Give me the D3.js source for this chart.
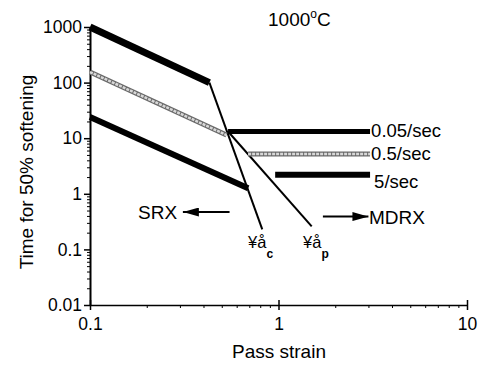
<!DOCTYPE html>
<html>
<head>
<meta charset="utf-8">
<script src="https://cdn.jsdelivr.net/npm/d3@7"></script>
<style>
  body { margin: 0; background: #fff; }
  svg { font-family: "Liberation Sans", Arial, sans-serif; }
</style>
</head>
<body>
<div id="chart"></div>
<script>
// SRX part (time vs strain, strain dependent)
const srxStrain005 = [0.1, 0.43]
const srxTime005 = [1000, 100]
const srxStrain05 = [0.1, 0.53]
const srxTime05 = [155, 11.4]
const srxStrain5 = [0.1, 0.69]
const srxTime5 = [24, 1.26]

// MDRX part (strain independent)
const mdrxStrain005 = [0.54, 3.06]
const mdrxTime005 = [13.2, 13.2]
const mdrxStrain05 = [0.69, 3.06]
const mdrxTime05 = [5.2, 5.2]
const mdrxStrain5 = [0.96, 3.06]
const mdrxTime5 = [2.2, 2.2]

// critical / peak strain lines
const ecStrain = [0.43, 0.82]
const ecTime = [100, 0.23]
const epStrain = [0.54, 1.5]
const epTime = [13.2, 0.26]

const rateLabels = ["0.05/sec", "0.5/sec", "5/sec"]
const yTicks = [0.01, 0.1, 1, 10, 100, 1000]
const xTicks = [0.1, 1, 10]

const width = 483
const height = 365

const xScale = d3.scaleLog().domain([0.1, 10]).range([90, 467])
const yScale = d3.scaleLog().domain([0.01, 1000]).range([305, 27])

const svg = d3.select("#chart")
  .append("svg")
  .attr("width", width)
  .attr("height", height)

const pts = (xs, ys) => xs.map((x, i) => [x, ys[i]])
const line = d3.line().x(d => xScale(d[0])).y(d => yScale(d[1]))

// minor ticks
const minorY = []
for (let e = -2; e < 3; e++) for (let m = 2; m < 10; m++) minorY.push(m * Math.pow(10, e))
const minorX = []
for (let e = -1; e < 1; e++) for (let m = 2; m < 10; m++) minorX.push(m * Math.pow(10, e))

svg.append("g")
  .attr("transform", "translate(90,0)")
  .call(d3.axisLeft(yScale).tickValues(minorY).tickSize(3).tickFormat(""))
  .call(g => g.select(".domain").remove())

svg.append("g")
  .attr("transform", "translate(0,305)")
  .call(d3.axisBottom(xScale).tickValues(minorX).tickSize(3).tickFormat(""))
  .call(g => g.select(".domain").remove())

const yAxis = svg.append("g")
  .attr("transform", "translate(90,0)")
  .call(d3.axisLeft(yScale).tickValues(yTicks).tickSize(6).tickSizeOuter(0).tickPadding(2).tickFormat(d => String(d)))
yAxis.select(".domain").attr("stroke-width", 2)
yAxis.selectAll("text").attr("font-size", 17.5).attr("fill", "#000").style("font-family", "inherit")
yAxis.selectAll("line").attr("stroke-width", 1.5)

const xAxis = svg.append("g")
  .attr("transform", "translate(0,305)")
  .call(d3.axisBottom(xScale).tickValues(xTicks).tickSize(5).tickSizeOuter(0).tickPadding(8).tickFormat(d => String(d)))
xAxis.select(".domain").attr("stroke-width", 1.5)
xAxis.selectAll("text").attr("font-size", 17.5).attr("fill", "#000").style("font-family", "inherit")
xAxis.selectAll("line").attr("stroke-width", 1.5).attr("y1", -5)

// thin critical / peak strain lines
svg.append("path").attr("d", line(pts(ecStrain, ecTime)))
  .attr("fill", "none").attr("stroke", "#000").attr("stroke-width", 2)
svg.append("path").attr("d", line(pts(epStrain, epTime)))
  .attr("fill", "none").attr("stroke", "#000").attr("stroke-width", 2)

// 0.5/sec gray lines
const grayLine = (xs, ys) => {
  svg.append("path").attr("d", line(pts(xs, ys)))
    .attr("fill", "none").attr("stroke", "#6a6a6a").attr("stroke-width", 5)
  svg.append("path").attr("d", line(pts(xs, ys)))
    .attr("fill", "none").attr("stroke", "#d8d8d8").attr("stroke-width", 2.5)
    .attr("stroke-dasharray", "3,1")
}
grayLine(srxStrain05, srxTime05)
grayLine(mdrxStrain05, mdrxTime05)

// black thick lines
svg.append("path").attr("d", line(pts(srxStrain005, srxTime005)))
  .attr("fill", "none").attr("stroke", "#000").attr("stroke-width", 7)
svg.append("path").attr("d", line(pts(mdrxStrain005, mdrxTime005)))
  .attr("fill", "none").attr("stroke", "#000").attr("stroke-width", 5)
svg.append("path").attr("d", line(pts(srxStrain5, srxTime5)))
  .attr("fill", "none").attr("stroke", "#000").attr("stroke-width", 6)
svg.append("path").attr("d", line(pts(mdrxStrain5, mdrxTime5)))
  .attr("fill", "none").attr("stroke", "#000").attr("stroke-width", 6)

// rate labels
const labelY = [mdrxTime005[0], mdrxTime05[0], mdrxTime5[0]]
svg.selectAll(".rate")
  .data(rateLabels)
  .enter()
  .append("text")
  .attr("class", "rate")
  .attr("x", (d, i) => xScale(3.1) + (i == 2 ? 3 : 0))
  .attr("y", (d, i) => yScale(labelY[i]) + (i == 2 ? 13 : 6))
  .attr("font-size", 18.5)
  .text(d => d)

// arrows
svg.append("defs").append("marker")
  .attr("id", "arrow")
  .attr("viewBox", "0 0 10 10")
  .attr("refX", 10).attr("refY", 5)
  .attr("markerWidth", 8).attr("markerHeight", 4.5)
  .attr("markerUnits", "strokeWidth")
  .attr("orient", "auto")
  .attr("preserveAspectRatio", "none")
  .append("path").attr("d", "M0,0L10,5L0,10Z").attr("fill", "#000")

svg.append("path").attr("d", line([[0.55, 0.47], [0.311, 0.47]]))
  .attr("stroke", "#000").attr("stroke-width", 2).attr("marker-end", "url(#arrow)")
svg.append("path").attr("d", line([[1.72, 0.39], [3.0, 0.39]]))
  .attr("stroke", "#000").attr("stroke-width", 2).attr("marker-end", "url(#arrow)")

svg.append("text").attr("x", xScale(0.29)).attr("y", yScale(0.47) + 7)
  .attr("text-anchor", "end").attr("font-size", 19).text("SRX")
svg.append("text").attr("x", xScale(3.02)).attr("y", yScale(0.39) + 7)
  .attr("font-size", 19).text("MDRX")

// strain symbol labels
const symText = (x, y, sub) => {
  const t = svg.append("text").attr("x", xScale(x)).attr("y", yScale(y)).attr("font-size", 16.5)
  t.append("tspan").text("¥å")
  t.append("tspan").attr("dy", 10).attr("font-size", 12).attr("font-weight", "bold").text(sub)
}
symText(0.69, 0.105, "c")
symText(1.35, 0.105, "p")

// title
const title = svg.append("text").attr("x", 268).attr("y", 26).attr("font-size", 19)
title.append("tspan").text("1000")
title.append("tspan").attr("dy", -8).attr("font-size", 12).text("o")
title.append("tspan").attr("dy", 8).text("C")

// axis titles
svg.append("text")
  .attr("x", 279).attr("y", 358)
  .attr("text-anchor", "middle").attr("font-size", 19)
  .text("Pass strain")
svg.append("text")
  .attr("transform", "translate(33,172) rotate(-90)")
  .attr("text-anchor", "middle").attr("font-size", 19)
  .text("Time for 50% softening")
</script>
</body>
</html>
